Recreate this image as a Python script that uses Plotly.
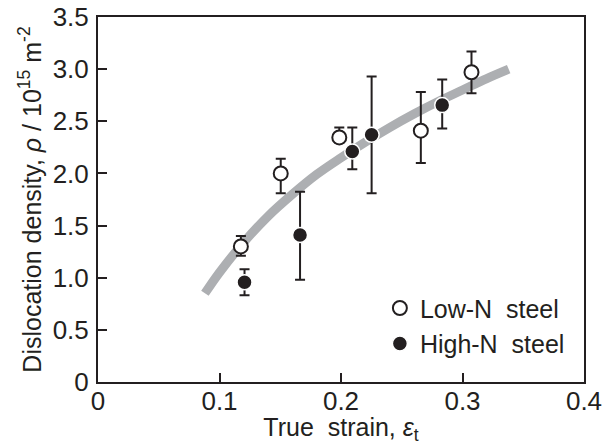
import plotly.graph_objects as go

# Low-N steel
low_x = [0.1176, 0.1504, 0.1986, 0.2657, 0.3074]
low_y = [1.30, 2.00, 2.345, 2.41, 2.97]
low_err_plus = [0.10, 0.14, 0.095, 0.37, 0.20]
low_err_minus = [0.09, 0.19, 0.05, 0.31, 0.20]

# High-N steel
high_x = [0.1206, 0.1663, 0.2093, 0.2252, 0.2833]
high_y = [0.956, 1.41, 2.21, 2.37, 2.655]
high_err_plus = [0.125, 0.415, 0.23, 0.56, 0.245]
high_err_minus = [0.125, 0.43, 0.17, 0.56, 0.225]

# Trend curve
fit_x = [0.088, 0.10, 0.12, 0.14, 0.16, 0.18, 0.20, 0.22, 0.24, 0.26, 0.28, 0.30, 0.32, 0.338]
fit_y = [0.85, 1.05, 1.34, 1.59, 1.80, 1.99, 2.15, 2.30, 2.44, 2.57, 2.69, 2.80, 2.91, 3.00]

x_ticks = [0, 0.1, 0.2, 0.3, 0.4]
x_labels = ["0", "0.1", "0.2", "0.3", "0.4"]
y_ticks = [0, 0.5, 1.0, 1.5, 2.0, 2.5, 3.0, 3.5]
y_labels = ["0", "0.5", "1.0", "1.5", "2.0", "2.5", "3.0", "3.5"]

ink = "#231f20"
font_family = "Liberation Sans, Arial, sans-serif"
fs = 26

fig = go.Figure()

fig.add_trace(go.Scatter(
    x=fit_x, y=fit_y, mode="lines",
    line=dict(color="#adafb2", width=9, shape="spline"),
    showlegend=False, hoverinfo="skip",
))

fig.add_trace(go.Scatter(
    x=low_x, y=low_y, mode="markers", name="Low-N\u00a0 steel",
    marker=dict(symbol="circle", size=14, color="white",
                line=dict(color=ink, width=2)),
    error_y=dict(type="data", symmetric=False, array=low_err_plus,
                 arrayminus=low_err_minus, color=ink, thickness=2, width=5),
))

fig.add_trace(go.Scatter(
    x=high_x, y=high_y, mode="markers", name="High-N\u00a0 steel",
    marker=dict(symbol="circle", size=15, color=ink,
                line=dict(color="white", width=1.5)),
    error_y=dict(type="data", symmetric=False, array=high_err_plus,
                 arrayminus=high_err_minus, color=ink, thickness=2, width=5),
))

axis_common = dict(
    showline=True, linecolor=ink, linewidth=2, mirror=True,
    ticks="inside", ticklen=9, tickwidth=1.5, tickcolor=ink,
    showgrid=False, zeroline=False,
    tickfont=dict(size=fs, color=ink, family=font_family),
)

fig.update_xaxes(
    range=[0, 0.4], tickvals=x_ticks, ticktext=x_labels,
    ticklabelstandoff=-5,
    title=dict(text="True\u00a0 strain, <i>ε</i><sub>t</sub>",
               font=dict(size=fs - 1, color=ink, family=font_family), standoff=8),
    **axis_common,
)
fig.update_yaxes(
    range=[0, 3.5], tickvals=y_ticks, ticktext=y_labels,
    ticklabelstandoff=2,
    title=dict(text="Dislocation density, <i>ρ</i> / 10<sup>15</sup> m<sup>-2</sup>",
               font=dict(size=fs - 1, color=ink, family=font_family), standoff=4),
    **axis_common,
)

fig.update_layout(
    width=612, height=445,
    margin=dict(l=98, r=28, t=17, b=63, autoexpand=False),
    paper_bgcolor="white", plot_bgcolor="white",
    legend=dict(x=0.58, y=0.265, xanchor="left", yanchor="top",
                font=dict(size=fs - 1, color=ink, family=font_family),
                bgcolor="rgba(0,0,0,0)", tracegroupgap=0,
                itemwidth=30),
    font=dict(family=font_family, color=ink),
)

fig.write_html("out.html")
